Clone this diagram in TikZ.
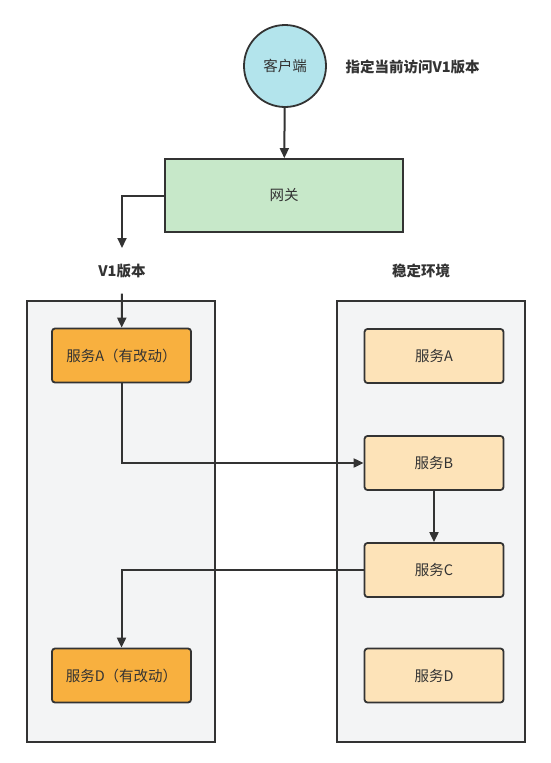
\documentclass[tikz,border=0pt]{standalone}
\usepackage{fontspec}
\setmainfont{Noto Sans CJK SC}
\usetikzlibrary{arrows.meta}
\definecolor{clientcol}{HTML}{B3E4EC}
\definecolor{gatecol}{HTML}{C7E8C9}
\definecolor{changedcol}{HTML}{F8B03F}
\definecolor{stablecol}{HTML}{FDE3B8}
\definecolor{envcol}{HTML}{F3F4F5}
\definecolor{linecol}{HTML}{333333}
\tikzset{
  every node/.style={font=\fontsize{14.5}{17}\selectfont, text=linecol},
  envbox/.style={draw=linecol, line width=1.8pt, fill=envcol, minimum width=188pt, minimum height=441pt},
  svcbox/.style={draw=linecol, line width=1.8pt, rounded corners=3pt, minimum width=139pt, minimum height=54pt},
  label/.style={font=\fontsize{14.5}{17}\selectfont\bfseries},
  arrow/.style={draw=linecol, line width=2pt, -{Triangle[length=10pt,width=9pt]}}
}
\begin{document}
\begin{tikzpicture}[x=1pt, y=-1pt]
  \useasboundingbox (0,0) rectangle (550,763);
  % Client e gateway
  \node[circle, draw=linecol, line width=1.8pt, fill=clientcol, minimum size=82pt] (client) at (285,66) {客户端};
  \node[label, anchor=west] (hint) at (342,67) {指定当前访问V1版本};
  \node[draw=linecol, line width=1.8pt, fill=gatecol, minimum width=238pt, minimum height=73pt] (gw) at (284,195.5) {网关};
  % Ambienti
  \node[label] (v1) at (122,271) {V1版本};
  \node[label] (stable) at (421,271) {稳定环境};
  \node[envbox] (v1env) at (121,521.5) {};
  \node[envbox] (stenv) at (431,521.5) {};
  % Servizi
  \node[svcbox, fill=changedcol] (svcA) at (121.5,355.5) {服务A（有改动）};
  \node[svcbox, fill=changedcol] (svcD) at (121.5,675.5) {服务D（有改动）};
  \node[svcbox, fill=stablecol] (stA) at (434,356) {服务A};
  \node[svcbox, fill=stablecol] (stB) at (434,463) {服务B};
  \node[svcbox, fill=stablecol] (stC) at (434,570) {服务C};
  \node[svcbox, fill=stablecol] (stD) at (434,675.5) {服务D};
  \coordinate (v1top) at (122,248);
  % Frecce
  \draw[arrow] (client) -- (gw);
  \draw[arrow] (gw.west) -| (v1top);
  \draw[arrow, shorten <=12pt] (v1.south) -- (svcA);
  \draw[arrow] (svcA) |- (stB);
  \draw[arrow] (stB) -- (stC);
  \draw[arrow] (stC) -| (svcD);
\end{tikzpicture}
\end{document}
